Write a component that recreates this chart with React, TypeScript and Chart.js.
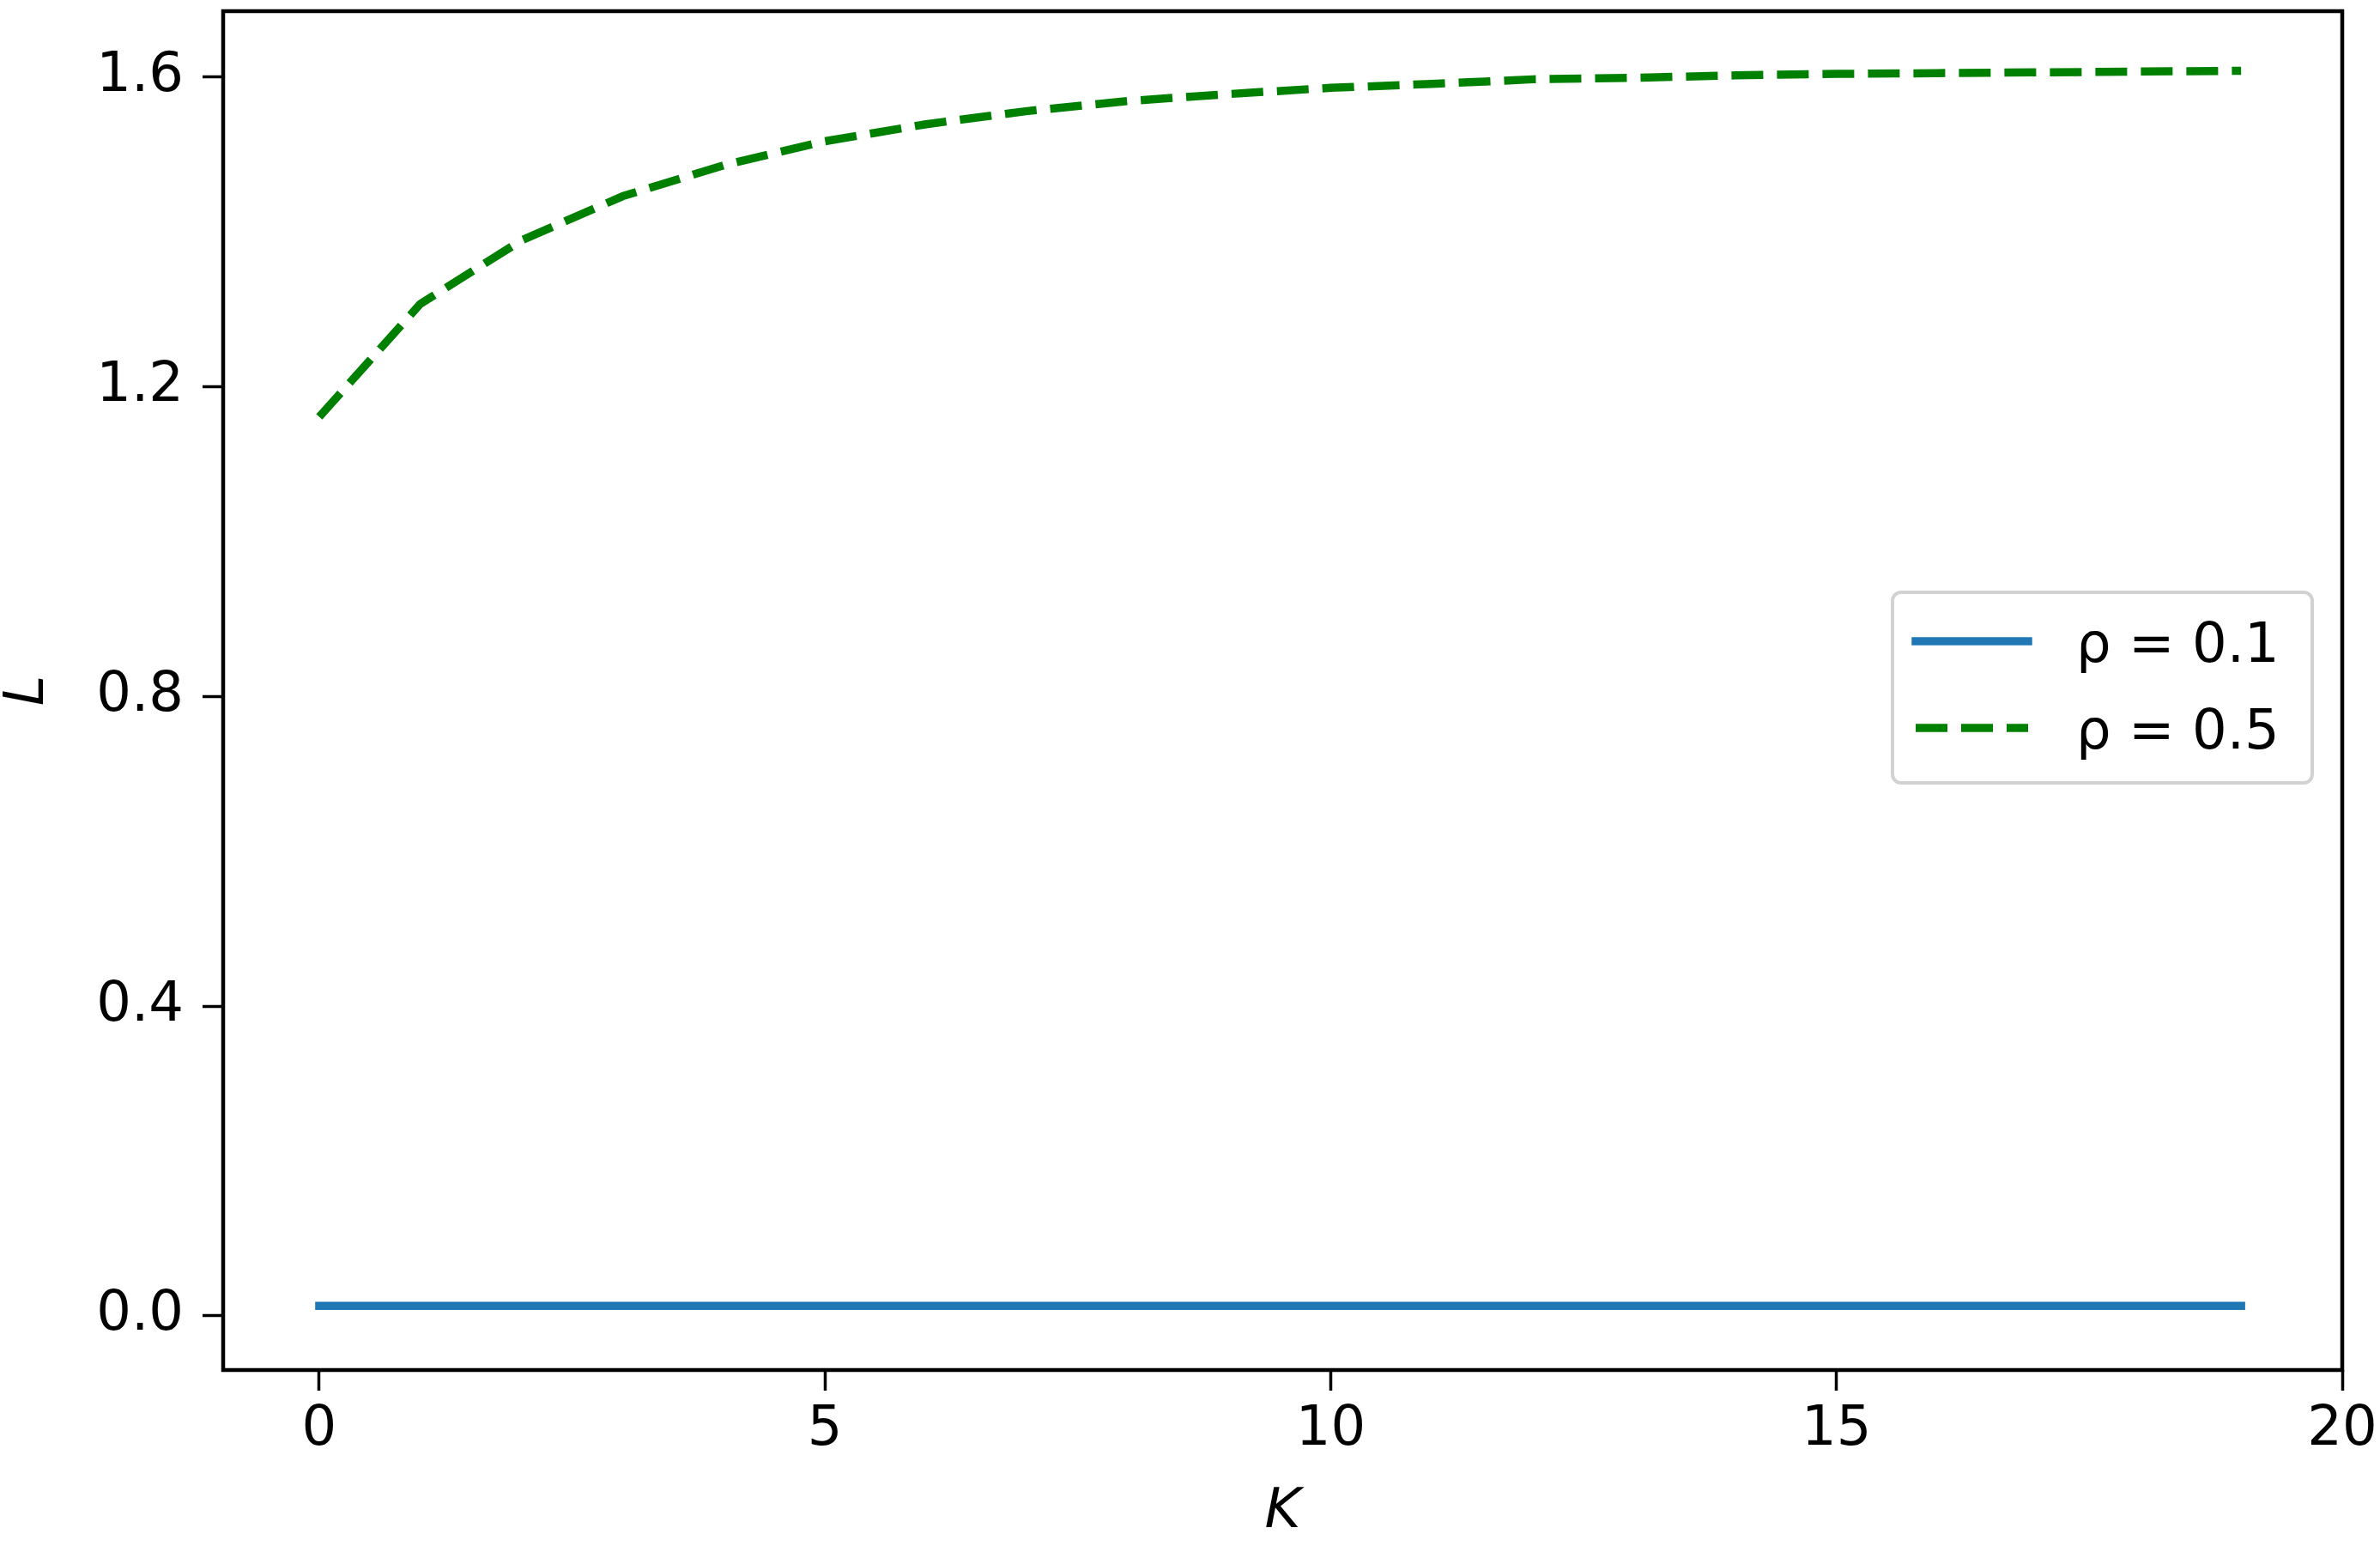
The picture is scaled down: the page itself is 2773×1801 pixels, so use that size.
import React, { useEffect, useRef } from "react";
import { Chart, registerables } from "chart.js";

Chart.register(...registerables);

// ---- data ----
const kValues = [0, 1, 2, 3, 4, 5, 6, 7, 8, 9, 10, 11, 12, 13, 14, 15, 16, 17, 18, 19];
const lRho01 = [0.013, 0.013, 0.013, 0.013, 0.013, 0.013, 0.013, 0.013, 0.013, 0.013, 0.013, 0.013, 0.013, 0.013, 0.013, 0.013, 0.013, 0.013, 0.013, 0.013];
const lRho05 = [1.161, 1.307, 1.389, 1.446, 1.486, 1.517, 1.539, 1.556, 1.569, 1.578, 1.586, 1.591, 1.597, 1.599, 1.602, 1.604, 1.605, 1.606, 1.607, 1.608];
const seriesLabels = ["ρ = 0.1", "ρ = 0.5"];
const xTickValues = [0, 5, 10, 15, 20];
const xTickLabels = ["0", "5", "10", "15", "20"];
const yTickValues = [0, 0.4, 0.8, 1.2, 1.6];
const yTickLabels = ["0.0", "0.4", "0.8", "1.2", "1.6"];
const xTitle = "K";
const yTitle = "L";

const FONT_FAMILY = "'DejaVu Sans'";
const FONT_SIZE = 64;

const framePlugin = {
  id: "frame",
  afterDatasetsDraw(chart: any) {
    const { ctx, chartArea } = chart;
    ctx.save();
    ctx.strokeStyle = "#000";
    ctx.lineWidth = 4.5;
    ctx.lineJoin = "miter";
    ctx.strokeRect(chartArea.left, chartArea.top, chartArea.right - chartArea.left, chartArea.bottom - chartArea.top);
    ctx.restore();
  },
};

const legendPlugin = {
  id: "innerLegend",
  afterDraw(chart: any) {
    const { ctx, chartArea } = chart;
    const boxW = 489;
    const boxH = 222;
    const right = chartArea.right - 35;
    const left = right - boxW;
    const cy = (chartArea.top + chartArea.bottom) / 2 - 3.5;
    const top = cy - boxH / 2;
    const r = 10;
    ctx.save();
    ctx.beginPath();
    ctx.moveTo(left + r, top);
    ctx.lineTo(left + boxW - r, top);
    ctx.arcTo(left + boxW, top, left + boxW, top + r, r);
    ctx.lineTo(left + boxW, top + boxH - r);
    ctx.arcTo(left + boxW, top + boxH, left + boxW - r, top + boxH, r);
    ctx.lineTo(left + r, top + boxH);
    ctx.arcTo(left, top + boxH, left, top + boxH - r, r);
    ctx.lineTo(left, top + r);
    ctx.arcTo(left, top, left + r, top, r);
    ctx.closePath();
    ctx.fillStyle = "rgba(255,255,255,0.8)";
    ctx.fill();
    ctx.strokeStyle = "#d2d2d2";
    ctx.lineWidth = 4;
    ctx.stroke();

    const rowOffsets = [57, 158];
    chart.data.datasets.forEach((ds: any, i: number) => {
      const y = top + rowOffsets[i];
      ctx.beginPath();
      ctx.setLineDash(ds.borderDash || []);
      ctx.lineDashOffset = 0;
      ctx.lineCap = ds.borderCapStyle || "butt";
      ctx.strokeStyle = ds.borderColor;
      ctx.lineWidth = ds.borderWidth;
      ctx.moveTo(left + 27, y);
      ctx.lineTo(left + 158, y);
      ctx.stroke();
      ctx.setLineDash([]);
      ctx.fillStyle = "#000";
      ctx.font = `${FONT_SIZE}px ${FONT_FAMILY}`;
      ctx.textAlign = "left";
      ctx.textBaseline = "alphabetic";
      ctx.fillText(ds.label, left + 214, y + 24);
    });
    ctx.restore();
  },
};

function labelFor(values: number[], labels: string[], v: number) {
  const idx = values.findIndex((t) => Math.abs(t - v) < 1e-9);
  return idx >= 0 ? labels[idx] : "";
}

export default function App() {
  const canvasRef = useRef<HTMLCanvasElement>(null);

  useEffect(() => {
    document.body.style.margin = "0";
    const canvas = canvasRef.current;
    if (!canvas) return;
    const tickFont = { family: FONT_FAMILY, size: FONT_SIZE };
    const chart = new Chart(canvas, {
      type: "line",
      data: {
        datasets: [
          {
            label: seriesLabels[0],
            data: kValues.map((k, i) => ({ x: k, y: lRho01[i] })),
            borderColor: "#1f77b4",
            borderWidth: 9.5,
            borderCapStyle: "square",
            borderJoinStyle: "round",
            pointRadius: 0,
            fill: false,
            tension: 0,
          },
          {
            label: seriesLabels[1],
            data: kValues.map((k, i) => ({ x: k, y: lRho05[i] })),
            borderColor: "#008000",
            borderWidth: 9.5,
            borderDash: [37, 16],
            borderCapStyle: "butt",
            borderJoinStyle: "round",
            pointRadius: 0,
            fill: false,
            tension: 0,
          },
        ],
      },
      options: {
        responsive: false,
        animation: false,
        devicePixelRatio: 1,
        layout: { padding: { top: 13, right: 44, left: 0, bottom: 0 } },
        plugins: {
          legend: { display: false },
          tooltip: { enabled: false },
          title: { display: false },
        },
        scales: {
          x: {
            type: "linear",
            min: -0.95,
            max: 20,
            afterBuildTicks: (s: any) => {
              s.ticks = xTickValues.map((v) => ({ value: v }));
            },
            afterFit: (s: any) => {
              s.height = 205;
              s.paddingLeft = 0;
              s.paddingRight = 0;
            },
            grid: {
              display: true,
              drawOnChartArea: false,
              drawTicks: true,
              tickLength: 24,
              tickColor: "#000",
              tickWidth: 3.5,
              color: "#000",
            },
            border: { display: false },
            ticks: {
              font: tickFont,
              color: "#000",
              padding: 8,
              maxRotation: 0,
              autoSkip: false,
              callback: (v: any) => labelFor(xTickValues, xTickLabels, Number(v)),
            },
            title: {
              display: true,
              text: xTitle,
              color: "#000",
              font: { family: FONT_FAMILY, size: FONT_SIZE, style: "italic", lineHeight: 1.2 },
              padding: { top: 0, bottom: 0 },
            },
          },
          y: {
            type: "linear",
            min: -0.07,
            max: 1.685,
            afterBuildTicks: (s: any) => {
              s.ticks = yTickValues.map((v) => ({ value: v }));
            },
            afterFit: (s: any) => {
              s.width = 260;
              s.paddingTop = 0;
              s.paddingBottom = 0;
            },
            grid: {
              display: true,
              drawOnChartArea: false,
              drawTicks: true,
              tickLength: 24,
              tickColor: "#000",
              tickWidth: 3.5,
              color: "#000",
            },
            border: { display: false },
            ticks: {
              font: tickFont,
              color: "#000",
              padding: 22,
              autoSkip: false,
              callback: (v: any) => labelFor(yTickValues, yTickLabels, Number(v)),
            },
            title: {
              display: true,
              text: yTitle,
              color: "#000",
              font: { family: FONT_FAMILY, size: FONT_SIZE, style: "italic", lineHeight: 1 },
              padding: { top: 1, bottom: 0 },
            },
          },
        },
      } as any,
      plugins: [framePlugin, legendPlugin],
    } as any);
    return () => chart.destroy();
  }, []);

  return (
    <div style={{ position: "absolute", left: 0, top: 0, width: 2773, height: 1801, background: "#fff" }}>
      <canvas ref={canvasRef} width={2773} height={1801} style={{ display: "block", width: 2773, height: 1801 }} />
    </div>
  );
}
